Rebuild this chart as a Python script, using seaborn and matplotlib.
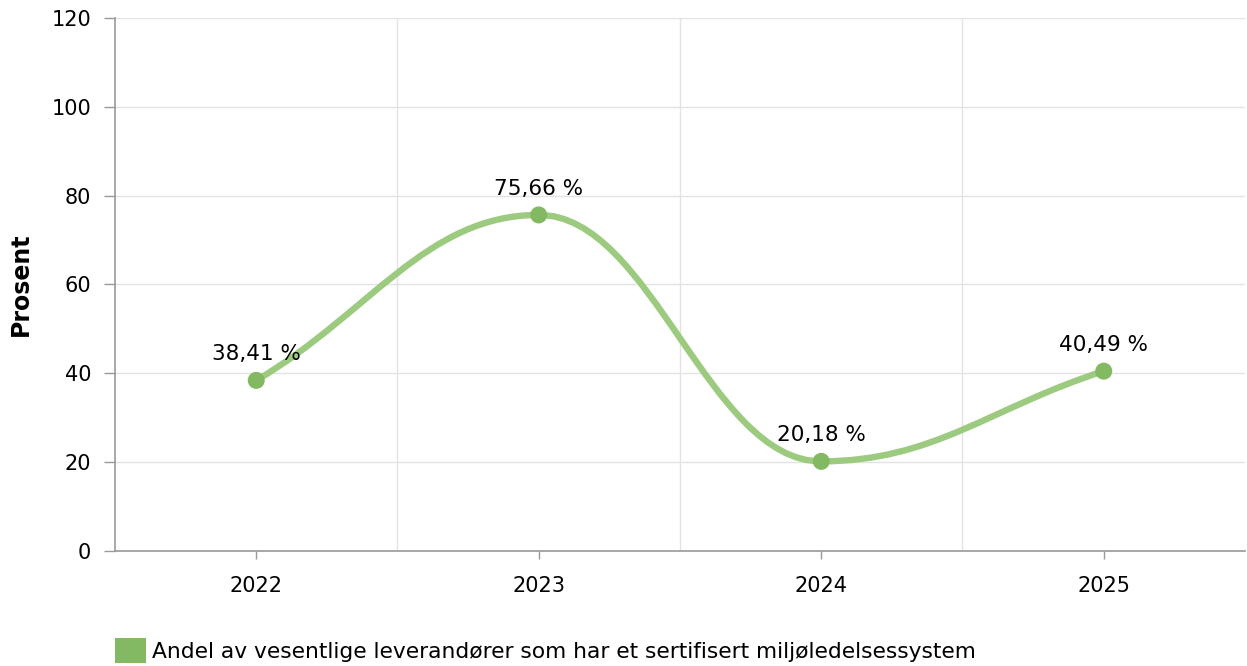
"""
    Andel leverandører med miljøledelsessystem
"""
import matplotlib
matplotlib.use('Agg')
import matplotlib.pyplot as plt
import seaborn as sns
import pandas as pd
from matplotlib.path import Path
from matplotlib.patches import PathPatch, Patch

# Data
aar = ['2022', '2023', '2024', '2025']
andel = [38.41, 75.66, 20.18, 40.49]
etiketter = ['38,41 %', '75,66 %', '20,18 %', '40,49 %']
serie_navn = 'Andel av vesentlige leverandører som har et sertifisert miljøledelsessystem'
y_ticks = [0, 20, 40, 60, 80, 100, 120]

linje_farge = '#9ccb80'
punkt_farge = '#83b962'

sns.set_theme(style='white')
plt.rcParams['font.family'] = ['DejaVu Sans']
plt.rcParams['text.color'] = '#000000'

df = pd.DataFrame({'x': range(len(aar)), 'andel': andel})

fig = plt.figure(figsize=(12.47, 6.66), dpi=100)
ax = fig.add_axes([0.0922, 0.1727, 0.9062, 0.8003])


# Glatt kurve: kontrollpunkter fra nabopunktene, vannrett tangent i topp/bunn
def spline_path(xs, ys, smoothing=1.5):
    denom = smoothing + 1
    n = len(xs)
    left = [None] * n
    right = [None] * n
    # endepunkter: kontrollpunkt langs linjen mot naboen
    right[0] = ((smoothing * xs[0] + xs[1]) / denom, (smoothing * ys[0] + ys[1]) / denom)
    left[-1] = ((smoothing * xs[-1] + xs[-2]) / denom, (smoothing * ys[-1] + ys[-2]) / denom)
    for i in range(1, n - 1):
        lx = (smoothing * xs[i] + xs[i - 1]) / denom
        ly = (smoothing * ys[i] + ys[i - 1]) / denom
        rx = (smoothing * xs[i] + xs[i + 1]) / denom
        ry = (smoothing * ys[i] + ys[i + 1]) / denom
        corr = (ry - ly) * (rx - xs[i]) / (rx - lx) + ys[i] - ry
        ly += corr
        ry += corr
        if ly > ys[i - 1] and ly > ys[i]:
            ly = max(ys[i - 1], ys[i])
            ry = 2 * ys[i] - ly
        elif ly < ys[i - 1] and ly < ys[i]:
            ly = min(ys[i - 1], ys[i])
            ry = 2 * ys[i] - ly
        if ry > ys[i + 1] and ry > ys[i]:
            ry = max(ys[i + 1], ys[i])
            ly = 2 * ys[i] - ry
        elif ry < ys[i + 1] and ry < ys[i]:
            ry = min(ys[i + 1], ys[i])
            ly = 2 * ys[i] - ry
        left[i] = (lx, ly)
        right[i] = (rx, ry)
    verts = [(xs[0], ys[0])]
    codes = [Path.MOVETO]
    for i in range(1, n):
        verts += [right[i - 1], left[i], (xs[i], ys[i])]
        codes += [Path.CURVE4] * 3
    return Path(verts, codes)


ax.add_patch(PathPatch(spline_path(list(df['x']), list(df['andel'])),
                       facecolor='none', edgecolor=linje_farge, lw=4.6,
                       capstyle='round', joinstyle='round', zorder=3))
sns.scatterplot(data=df, x='x', y='andel', color=punkt_farge, s=150,
                edgecolor='none', zorder=4, ax=ax, legend=False)

for x, y, t in zip(df['x'], df['andel'], etiketter):
    ax.annotate(t, (x, y), xytext=(0, 19), textcoords='offset points',
                ha='center', va='center', fontsize=15.5, color='#000000')

# Akser
ax.set_xlim(-0.5, len(aar) - 0.5)
ax.set_ylim(0, 120)
ax.set_xticks(range(len(aar)))
ax.set_xticklabels(aar)
ax.set_yticks(y_ticks)
ax.set_xticks([i + 0.5 for i in range(len(aar) - 1)], minor=True)
ax.tick_params(axis='both', which='major', labelsize=15, labelcolor='#000000',
               width=1, color='#999999', bottom=True, left=True)
ax.tick_params(axis='x', which='major', length=6, pad=12)
ax.tick_params(axis='y', which='major', length=8, pad=9)
ax.tick_params(axis='x', which='minor', length=0, bottom=False)
ax.grid(axis='y', which='major', color='#e3e3e3', lw=1)
ax.grid(axis='x', which='minor', color='#e3e3e3', lw=1)
ax.set_axisbelow(True)
for s in ['top', 'right']:
    ax.spines[s].set_visible(False)
for s in ['left', 'bottom']:
    ax.spines[s].set_color('#999999')
    ax.spines[s].set_linewidth(1.2)
ax.set_xlabel('')
ax.set_ylabel('Prosent', fontsize=17, fontweight='bold', color='#000000')
ax.yaxis.set_label_coords(-0.073, 0.5)

fig.legend(handles=[Patch(facecolor=punkt_farge, edgecolor='none', label=serie_navn)],
           loc='lower left', bbox_to_anchor=(0.0922, 0.004), frameon=False,
           fontsize=15.7, handlelength=1.4, handleheight=1.4, handletextpad=0.3,
           borderpad=0, borderaxespad=0, labelcolor='#000000')

plt.savefig('out.png', dpi=100)
